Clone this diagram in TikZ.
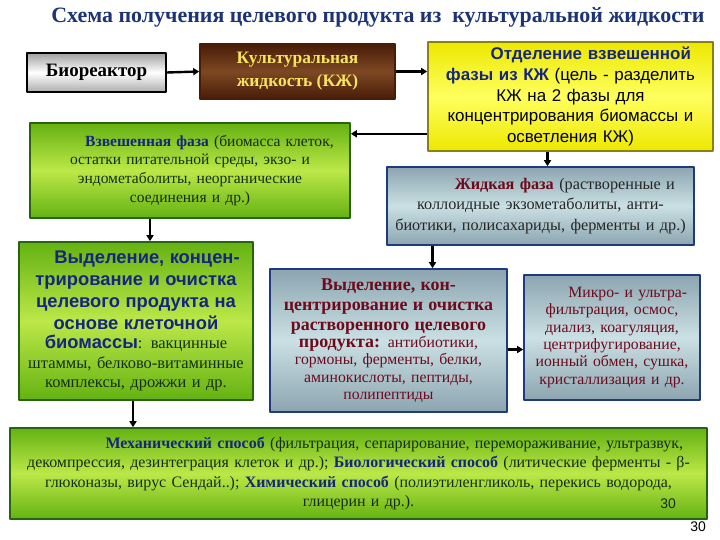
\documentclass[tikz,border=0pt]{standalone}
\usepackage{fontspec}
\setmainfont{Liberation Serif}
\setsansfont{Liberation Sans}
\usetikzlibrary{arrows.meta}
\definecolor{Tblue}{RGB}{28,52,118}
\definecolor{Bblue}{RGB}{22,38,128}
\definecolor{Gtext}{RGB}{22,45,20}
\definecolor{Mred}{RGB}{110,10,28}
\definecolor{Gline}{RGB}{40,100,15}
\definecolor{Gdark}{RGB}{100,178,18}
\definecolor{Glight}{RGB}{188,232,72}
\definecolor{Sline}{RGB}{30,58,128}
\definecolor{Sdark}{RGB}{140,165,176}
\definecolor{Slight}{RGB}{202,224,228}
\definecolor{Yline}{RGB}{140,128,20}
\definecolor{Ydark}{RGB}{236,232,0}
\definecolor{Ylight}{RGB}{255,255,95}
\definecolor{Kdark}{RGB}{72,28,8}
\definecolor{Klight}{RGB}{125,72,36}
\definecolor{Ktext}{RGB}{245,228,95}

\begin{document}
\begin{tikzpicture}[x=1bp,y=-1bp,line join=round,
  box/.style={draw,line width=1.6bp,inner sep=0pt,align=center},
  greenbox/.style={box,draw=Gline,top color=Gdark,bottom color=Gdark,middle color=Glight,text=Gtext},
  slatebox/.style={box,draw=Sline,top color=Sdark,bottom color=Sdark,middle color=Slight,text=Mred},
  flow/.style={line width=2.4bp,-{Triangle[length=6bp,width=7bp]}}]
\path[use as bounding box] (0,0) rectangle (720,540);
\fill[white] (0,0) rectangle (720,540);
\node[font=\bfseries\fontsize{22}{24}\selectfont,text=Tblue] (title) at (378,17) {Схема получения целевого продукта из\ \ культуральной жидкости};
\node[box,draw=black,line width=2bp,top color=gray!75,bottom color=gray!65,middle color=white,minimum width=139bp,minimum height=39bp,font=\bfseries\fontsize{19}{21}\selectfont] (bioreactor) at (96.5,72.5) {Биореактор};
\node[box,draw=Kdark,top color=Kdark,bottom color=Kdark,middle color=Klight,minimum width=195bp,minimum height=55bp,text=Ktext,font=\bfseries\fontsize{17.5}{23}\selectfont] (broth) at (297.5,71.5) {Культуральная\\жидкость (КЖ)};
\node[box,draw=Yline,top color=Ydark,bottom color=Ydark,middle color=Ylight,minimum width=285bp,minimum height=109bp,text width=279bp,font=\sffamily\fontsize{17}{20.8}\selectfont] (separation) at (570.5,96.5) {\hspace*{2.4em}\textcolor{Bblue}{\bfseries Отделение взвешенной}\\\textcolor{Bblue}{\bfseries фазы из КЖ} (цель - разделить\\КЖ на 2 фазы для\\концентрирования биомассы и\\осветления КЖ)};
\node[greenbox,minimum width=320bp,minimum height=95bp,text width=316bp,font=\fontsize{15.6}{19}\selectfont] (solid) at (190,170.5) {\hspace*{2.5em}\textcolor{Bblue}{\bfseries Взвешенная фаза} (биомасса клеток,\\остатки питательной среды, экзо- и\\эндометаболиты, неорганические\\соединения и др.)};
\node[slatebox,minimum width=307bp,minimum height=78bp,text width=303bp,font=\fontsize{16.3}{20.5}\selectfont] (liquid) at (540.5,206) {\hspace*{3em}\textbf{Жидкая фаза} \textcolor{black!85}{(растворенные и}\\\textcolor{black!85}{коллоидные экзометаболиты, анти-}\\\textcolor{black!85}{биотики, полисахариды, ферменты и др.)}};
\node[greenbox,minimum width=234bp,minimum height=158bp,text width=232bp,font=\fontsize{16.5}{19.5}\selectfont] (biomass) at (136,321) {{\sffamily\bfseries\fontsize{18.4}{22}\selectfont\color{Bblue}\hspace*{1.2em}Выделение, концен-\\трирование и очистка\\целевого продукта на\\основе клеточной\\биомассы}: вакцинные\\штаммы, белково-витаминные\\комплексы, дрожжи и др.};
\node[slatebox,minimum width=237bp,minimum height=143bp,text width=233bp,font=\fontsize{15.8}{17.2}\selectfont] (dissolved) at (388.5,340.5) {{\bfseries\fontsize{18}{20.2}\selectfont Выделение, кон-\\центрирование и очистка\\растворенного целевого\\продукта:} антибиотики,\\гормоны, ферменты, белки,\\аминокислоты, пептиды,\\полипептиды};
\node[slatebox,minimum width=176bp,minimum height=125bp,text width=172bp,font=\fontsize{15.8}{17.4}\selectfont] (methods) at (612,337.5) {\hspace*{2em}Микро- и ультра-\\фильтрация, осмос,\\диализ, коагуляция,\\центрифугирование,\\ионный обмен, сушка,\\кристаллизация и др.};
\node[greenbox,minimum width=697bp,minimum height=91bp,text width=693bp,font=\fontsize{16}{19.6}\selectfont] (disruption) at (358.5,473.5) {\hspace*{4.5em}\textcolor{Bblue}{\bfseries Механический способ} (фильтрация, сепарирование, перемораживание, ультразвук,\\декомпрессия, дезинтеграция клеток и др.); \textcolor{Bblue}{\bfseries Биологический способ} (литические ферменты - β-\\глюконазы, вирус Сендай..); \textcolor{Bblue}{\bfseries Химический способ} (полиэтиленгликоль, перекись водорода,\\глицерин и др.).};
\node[font=\sffamily\fontsize{14}{16}\selectfont,text=Gtext] (innerno) at (668,504) {30};
\node[font=\sffamily\fontsize{14}{16}\selectfont] (pageno) at (698,527) {30};
\draw[flow] (bioreactor.east) -- (broth.west);
\draw[flow] (broth.east) -- (broth.east -| separation.west);
\draw[flow] ([yshift=18bp]separation.south west) -- ([yshift=18bp]separation.south west -| solid.east);
\draw[flow] ([xshift=-23bp]separation.south) -- ([xshift=-23bp]separation.south |- liquid.north);
\draw[flow] ([xshift=14bp]biomass.north |- solid.south) -- ([xshift=14bp]biomass.north);
\draw[flow] ([xshift=44bp]dissolved.north |- liquid.south) -- ([xshift=44bp]dissolved.north);
\draw[flow] ([yshift=-9bp]dissolved.east) -- ([yshift=-9bp]dissolved.east -| methods.west);
\draw[flow] ([xshift=-3bp]biomass.south) -- ([xshift=-3bp]biomass.south |- disruption.north);
\end{tikzpicture}
\end{document}
